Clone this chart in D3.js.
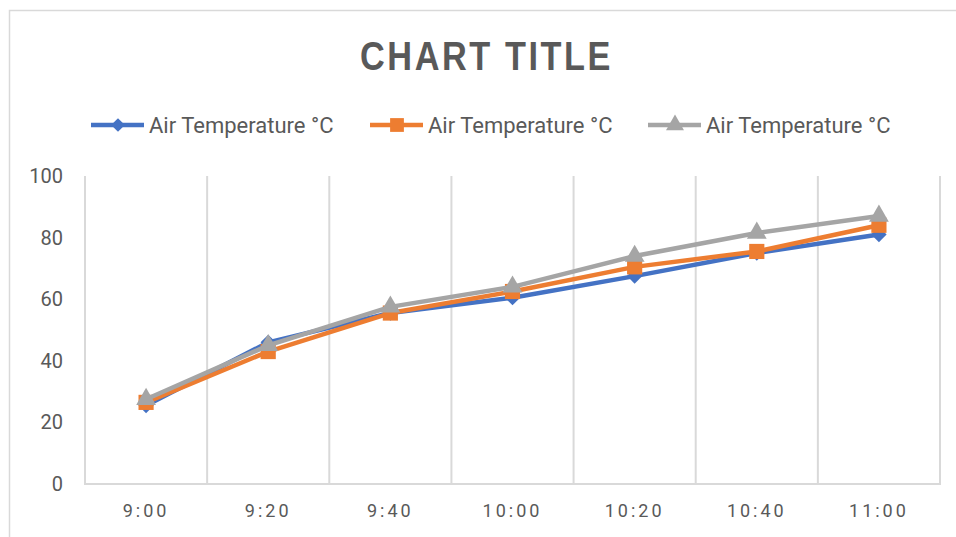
<!DOCTYPE html>
<html>
<head>
<meta charset="utf-8">
<script src="https://cdn.jsdelivr.net/npm/d3@7"></script>
<style>
  html, body { margin: 0; padding: 0; background: #fff; }
  svg { display: block; }
  text { font-family: Roboto, "Open Sans", sans-serif; fill: #595959; }
</style>
</head>
<body>
<svg id="chart" width="956" height="537"></svg>
<script>
// Time of day on the category axis
const categories = ["9:00", "9:20", "9:40", "10:00", "10:20", "10:40", "11:00"];

// Three temperature readings, one per series
const seriesBlue   = [25.5, 46, 55.5, 60.5, 67.5, 75, 81];
const seriesOrange = [26.5, 43, 55.5, 62.5, 70.5, 75.5, 84];
const seriesGray   = [27.5, 45, 57.5, 64, 74, 81.5, 87];

const seriesNames = ["Air Temperature °C", "Air Temperature °C", "Air Temperature °C"];
const yTicks = [0, 20, 40, 60, 80, 100];

const chartTitle = "CHART TITLE";

const W = 956, H = 537;
const plot = { left: 85, right: 940, top: 176, bottom: 484 };

const svg = d3.select("#chart");

// Outer chart frame
svg.append("rect")
  .attr("x", 9.5).attr("y", 10.5)
  .attr("width", W + 10).attr("height", H + 10)
  .attr("fill", "none").attr("stroke", "#d9d9d9").attr("stroke-width", 1.5);

const x = d3.scaleBand().domain(categories).range([plot.left, plot.right]).padding(0);
const y = d3.scaleLinear().domain([0, 100]).range([plot.bottom, plot.top]);

// Vertical gridlines at category boundaries
const bounds = categories.map(c => x(c)).concat([plot.right]);
svg.append("g").selectAll("line").data(bounds).join("line")
  .attr("x1", d => d).attr("x2", d => d)
  .attr("y1", plot.top).attr("y2", plot.bottom)
  .attr("stroke", "#d9d9d9").attr("stroke-width", 2);

// Bottom axis line
svg.append("line")
  .attr("x1", plot.left - 1).attr("x2", plot.right + 1)
  .attr("y1", plot.bottom).attr("y2", plot.bottom)
  .attr("stroke", "#d9d9d9").attr("stroke-width", 2);

// Y axis labels
const yAxis = d3.axisLeft(y).tickValues(yTicks).tickSize(0).tickPadding(22);
const gy = svg.append("g").attr("transform", `translate(${plot.left},0)`).call(yAxis);
gy.select(".domain").remove();
gy.selectAll("text")
  .style("font-size", "20px")
  .style("font-family", "Roboto, sans-serif")
  .attr("fill", "#595959");

// X axis labels
const xAxis = d3.axisBottom(x).tickSize(0).tickPadding(20);
const gx = svg.append("g").attr("transform", `translate(0,${plot.bottom})`).call(xAxis);
gx.select(".domain").remove();
gx.selectAll("text")
  .style("font-size", "18px")
  .style("letter-spacing", "3px")
  .style("font-family", "Roboto, sans-serif")
  .attr("fill", "#595959");

const series = [
  { name: seriesNames[0], values: seriesBlue,   color: "#4472C4", shape: "diamond" },
  { name: seriesNames[1], values: seriesOrange, color: "#ED7D31", shape: "square" },
  { name: seriesNames[2], values: seriesGray,   color: "#A5A5A5", shape: "triangle" }
];

const symbolFor = {
  diamond: d3.symbol().type(d3.symbolDiamond2).size(150),
  square: d3.symbol().type(d3.symbolSquare).size(230),
  triangle: d3.symbol().type(d3.symbolTriangle).size(170)
};
const legendSymbolFor = {
  diamond: d3.symbol().type(d3.symbolDiamond2).size(120),
  square: d3.symbol().type(d3.symbolSquare).size(190),
  triangle: d3.symbol().type(d3.symbolTriangle).size(140)
};

const line = d3.line()
  .x((d, i) => x(categories[i]) + x.bandwidth() / 2)
  .y(d => y(d));

series.forEach(s => {
  const g = svg.append("g");
  g.append("path")
    .attr("d", line(s.values))
    .attr("fill", "none")
    .attr("stroke", s.color)
    .attr("stroke-width", 4.5)
    .attr("stroke-linejoin", "round");
  g.selectAll("path.m").data(s.values).join("path")
    .attr("class", "m")
    .attr("d", symbolFor[s.shape])
    .attr("transform", (d, i) => `translate(${x(categories[i]) + x.bandwidth() / 2},${y(d)})`)
    .attr("fill", s.color);
});

// Title
svg.append("text")
  .attr("x", 360).attr("y", 70)
  .attr("textLength", 253)
  .attr("lengthAdjust", "spacingAndGlyphs")
  .style("font-family", "'Liberation Sans', Arial, sans-serif")
  .style("font-weight", "bold")
  .style("font-size", "40px")
  .style("letter-spacing", "3px")
  .attr("fill", "#595959")
  .text(chartTitle);

// Legend
const legendX = [91, 370, 648];
const legend = svg.append("g").selectAll("g").data(series).join("g")
  .attr("transform", (d, i) => `translate(${legendX[i]},125)`);
legend.append("line")
  .attr("x1", 0).attr("x2", 53).attr("y1", 0).attr("y2", 0)
  .attr("stroke", d => d.color).attr("stroke-width", 4.5);
legend.append("path")
  .attr("d", d => legendSymbolFor[d.shape]())
  .attr("transform", "translate(27,0)")
  .attr("fill", d => d.color);
legend.append("text")
  .attr("x", 58).attr("y", 8)
  .style("font-size", "22px")
  .attr("fill", "#595959")
  .text(d => d.name);
</script>
</body>
</html>
